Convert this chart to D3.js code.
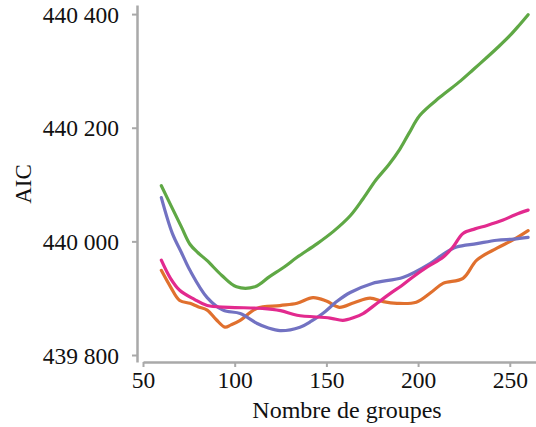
<!DOCTYPE html>
<html>
<head>
<meta charset="utf-8">
<script src="https://cdn.jsdelivr.net/npm/d3@7"></script>
</head>
<body style="margin:0">
<div id="chart"></div>
<script>
const xTicks = [50, 100, 150, 200, 250];
const yTicks = [439800, 440000, 440200, 440400];

const green = [[60, 440098], [66, 440058], [71, 440025], [75.6, 439995], [80, 439980], [85, 439966], [93, 439940], [101, 439920], [111, 439920], [119, 439938], [127, 439955], [134, 439972], [145, 439996], [154, 440018], [163, 440045], [170, 440075], [177, 440108], [184, 440135], [190, 440162], [195, 440190], [201, 440222], [212, 440254], [223, 440282], [230, 440302], [237.6, 440324], [244, 440343], [250, 440362], [255, 440380], [260, 440399]];
const blue = [[60, 440077], [66, 440014], [71, 439980], [75.6, 439949], [85, 439901], [93.6, 439879], [103, 439873], [112, 439856], [118, 439848], [124.7, 439843], [135.6, 439849], [142, 439860], [148, 439873], [156, 439895], [163, 439910], [175, 439926], [192, 439937], [206.5, 439961], [214, 439978], [221, 439990], [232, 439996], [243, 440002], [252, 440004], [260, 440007]];
const magenta = [[60, 439967], [65, 439935], [70, 439914], [78, 439898], [85, 439887], [97, 439884], [115, 439882], [125, 439878], [134, 439870], [152, 439865], [159, 439861], [165, 439866], [170, 439873], [178, 439892], [184.7, 439908], [191, 439922], [197, 439937], [205, 439955], [213.6, 439972], [219, 439990], [224.5, 440014], [231, 440022], [237.6, 440028], [246, 440037], [253, 440047], [260, 440055]];
const orange = [[60, 439949], [65, 439920], [70, 439896], [75.6, 439891], [80, 439885], [85, 439879], [90, 439862], [94.7, 439849], [98, 439853], [103, 439861], [112, 439882], [124.7, 439887], [134, 439891], [142.7, 439901], [150, 439895], [157, 439884], [165, 439892], [173.8, 439900], [181, 439894], [188.5, 439891], [199, 439893], [207, 439910], [213.6, 439926], [224.5, 439935], [232, 439967], [243, 439988], [252, 440003], [260, 440019]];

const series = [
  { name: "orange", values: orange, color: "#e0702e" },
  { name: "blue", values: blue, color: "#7272c2" },
  { name: "magenta", values: magenta, color: "#e22a8e" },
  { name: "green", values: green, color: "#5fa845" }
];

const width = 536, height = 427;
const serif = '"Liberation Serif"';
const svg = d3.select("#chart").append("svg")
  .attr("width", width)
  .attr("height", height)
  .style("font-family", serif);

const x = d3.scaleLinear().domain([50, 264.3]).range([143, 536]);
const y = d3.scaleLinear().domain([439787.7, 440416]).range([362, 5]);

const axisColor = "#a9a9a9";

// y axis
const yAxis = svg.append("g")
  .attr("transform", `translate(137,0)`)
  .call(d3.axisLeft(y).tickValues(yTicks).tickSize(5).tickSizeOuter(0)
    .tickFormat(d => d3.format(",")(d).replace(",", " ")));
yAxis.select(".domain").attr("stroke", axisColor).attr("stroke-width", 2.5);
yAxis.selectAll(".tick line").attr("stroke", axisColor).attr("stroke-width", 2);
yAxis.selectAll(".tick text").attr("x", -18).attr("dy", "0.34em")
  .style("font-family", serif).style("font-size", "23.5px").attr("fill", "#111");

// x axis
const xAxis = svg.append("g")
  .attr("transform", `translate(0,362)`)
  .call(d3.axisBottom(x).tickValues(xTicks).tickSize(5).tickSizeOuter(0));
xAxis.select(".domain").attr("stroke", axisColor).attr("stroke-width", 2.5);
xAxis.selectAll(".tick line").attr("stroke", axisColor).attr("stroke-width", 2);
xAxis.selectAll(".tick text").attr("y", 9)
  .style("font-family", serif).style("font-size", "23.5px").attr("fill", "#111");

// axis titles
svg.append("text")
  .attr("transform", "translate(31,184) rotate(-90)")
  .attr("text-anchor", "middle")
  .style("font-family", serif)
  .style("font-size", "23px")
  .attr("fill", "#111")
  .text("AIC");

svg.append("text")
  .attr("x", 347)
  .attr("y", 418)
  .attr("text-anchor", "middle")
  .style("font-family", serif)
  .style("font-size", "24px")
  .attr("fill", "#111")
  .text("Nombre de groupes");

const line = d3.line()
  .x(d => x(d[0]))
  .y(d => y(d[1]))
  .curve(d3.curveCatmullRom.alpha(0.5));

svg.append("g")
  .selectAll("path")
  .data(series)
  .join("path")
  .attr("fill", "none")
  .attr("stroke", d => d.color)
  .attr("stroke-width", 3.2)
  .attr("stroke-linejoin", "round")
  .attr("stroke-linecap", "round")
  .attr("d", d => line(d.values));
</script>
</body>
</html>
